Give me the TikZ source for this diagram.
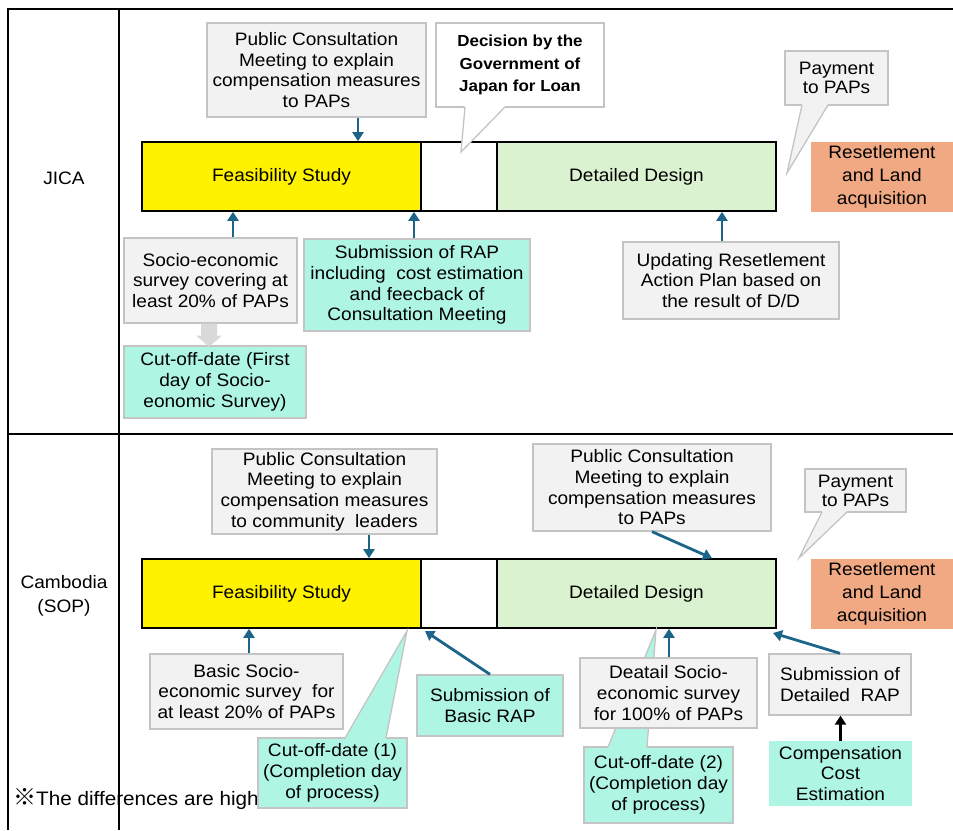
\documentclass[tikz,border=0pt]{standalone}
\usepackage{fontspec}
\setmainfont{Liberation Sans}[FakeStretch=1.06]
\newfontfamily\cjkf{Noto Sans CJK JP}
\usetikzlibrary{arrows.meta,calc}
\definecolor{boxgray}{HTML}{F2F2F2}
\definecolor{boxline}{HTML}{C4C4C4}
\definecolor{aqua}{HTML}{AEF5E4}
\definecolor{salmon}{HTML}{F1A983}
\definecolor{ddgreen}{HTML}{DAF2D0}
\definecolor{arrowblue}{HTML}{1C6588}
\definecolor{blockgray}{HTML}{D9D9D9}
\begin{document}
\begin{tikzpicture}[x=1pt,y=-1pt,
  txt/.style={font=\fontsize{18}{20.7}\selectfont, align=center, inner sep=0pt},
  gbox/.style={txt, fill=boxgray, draw=boxline, line width=1.3pt},
  abox/.style={txt, fill=aqua, draw=boxline, line width=1.3pt},
  stagebox/.style={txt, draw=black, line width=1.6pt, minimum height=69},
  resbox/.style={txt, fill=salmon, font=\fontsize{18}{23.3}\selectfont, minimum width=142, minimum height=70},
  arr/.style={draw=arrowblue, line width=2.8pt, -{Triangle[length=9pt,width=11pt]}},
  blackarr/.style={draw=black, line width=2.8pt, -{Triangle[length=9pt,width=11pt]}},
  tableline/.style={line width=1.4pt, black},
  pointer/.style={draw=boxline, line width=1.3pt, line join=miter},
]
\useasboundingbox (0,0) rectangle (953,830);

% table
\draw[tableline] (8,830) -- (8,9) -- (953,9);
\draw[tableline] (119,9) -- (119,830);
\draw[tableline] (8,434) -- (953,434);

% row labels
\node[txt] (lj) at (64,178) {JICA};
\node[txt, font=\fontsize{18}{23.5}\selectfont] (lc) at (64,596) {Cambodia\\(SOP)};

% ================= JICA =================
\node[stagebox, fill=yellow, minimum width=279] (fsj) at (281.5,176.5) {Feasibility Study};
\node[stagebox, fill=white, minimum width=76] (wj) at (459,176.5) {};
\node[stagebox, fill=ddgreen, minimum width=279] (ddj) at (636.5,176.5) {Detailed Design};
\node[resbox] (rj) at (882,177) {Resetlement\\and Land\\acquisition};

\node[gbox, minimum width=219, minimum height=94] (pcj) at (316.5,70)
  {Public Consultation\\Meeting to explain\\compensation measures\\to PAPs};

% decision callout
\node[fill=white, draw=boxline, line width=1.3pt, outer sep=0pt, inner sep=0pt, align=center,
  minimum width=168, minimum height=84, font=\bfseries\fontsize{16}{22.5}\selectfont] (dec) at (520,65)
  {Decision by the\\Government of\\Japan for Loan};
\coordinate (tipdec) at (461,152);
\fill[white] ($(dec.south west)+(29,-1)$) -- (tipdec) -- ($(dec.south west)+(69,-1)$) -- cycle;
\draw[pointer] ($(dec.south west)+(29,0)$) -- (tipdec) -- ($(dec.south west)+(69,0)$);

% payment callout JICA
\node[gbox, outer sep=0pt, font=\fontsize{18}{19.5}\selectfont, minimum width=103, minimum height=54] (payj) at (836.5,78)
  {Payment\\to PAPs};
\coordinate (tippayj) at (787,173);
\fill[boxgray] ($(payj.south west)+(17,-1)$) -- (tippayj) -- ($(payj.south west)+(43,-1)$) -- cycle;
\draw[pointer] ($(payj.south west)+(17,0)$) -- (tippayj) -- ($(payj.south west)+(43,0)$);

\coordinate (xa1) at (358,0);
\draw[arr] (pcj.south -| xa1) -- (fsj.north -| xa1);

\node[gbox, minimum width=173, minimum height=85] (socj) at (210.5,280.5)
  {Socio-economic\\survey covering at\\least 20\% of PAPs};
\coordinate (xa2) at (233,0);
\draw[arr] (socj.north -| xa2) -- (fsj.south -| xa2);

\node[abox, minimum width=226, minimum height=92] (subj) at (417,285)
  {Submission of RAP\\including\ \ cost estimation\\and feecback of\\Consultation Meeting};
\coordinate (xa3) at (414,0);
\draw[arr] (subj.north -| xa3) -- (fsj.south -| xa3);

\node[abox, minimum width=182, minimum height=72] (cutj) at (215,382)
  {Cut-off-date (First\\day of Socio-\\eonomic Survey)};
\coordinate (xg) at (209,0);
\fill[blockgray] (socj.south -| xg) ++(-8,0) -- ++(0,12) -- ++(-5,0) -- ++(13,11) -- ++(13,-11) -- ++(-5,0) -- ++(0,-12) -- cycle;

\node[gbox, minimum width=216, minimum height=77] (updj) at (731,280.5)
  {Updating Resetlement\\Action Plan based on\\the result of D/D};
\coordinate (xa4) at (722,0);
\draw[arr] (updj.north -| xa4) -- (ddj.south -| xa4);

% ================= Cambodia =================
\node[stagebox, fill=yellow, minimum width=279] (fsc) at (281.5,593.5) {Feasibility Study};
\node[stagebox, fill=white, minimum width=76] (wc) at (459,593.5) {};
\node[stagebox, fill=ddgreen, minimum width=279] (ddc) at (636.5,593.5) {Detailed Design};
\node[resbox] (rc) at (882,594) {Resetlement\\and Land\\acquisition};

\node[gbox, minimum width=225, minimum height=85] (pcc) at (324.5,491.5)
  {Public Consultation\\Meeting to explain\\compensation measures\\to community\ \ leaders};
\coordinate (xc1) at (369,0);
\draw[arr] (pcc.south -| xc1) -- (fsc.north -| xc1);

\node[gbox, minimum width=238, minimum height=87] (pc2) at (652,487.5)
  {Public Consultation\\Meeting to explain\\compensation measures\\to PAPs};
\coordinate (xc2) at (712,0);
\draw[arr] (pc2.south) -- (ddc.north -| xc2);

% payment callout Cambodia
\node[gbox, outer sep=0pt, font=\fontsize{18}{19}\selectfont, minimum width=101, minimum height=43] (payc) at (855.5,490.5)
  {Payment\\to PAPs};
\coordinate (tippayc) at (799,558);
\fill[boxgray] ($(payc.south west)+(17,-1)$) -- (tippayc) -- ($(payc.south west)+(42,-1)$) -- cycle;
\draw[pointer] ($(payc.south west)+(17,0)$) -- (tippayc) -- ($(payc.south west)+(42,0)$);

\node[gbox, minimum width=193, minimum height=75] (bsoc) at (246.5,691.5)
  {Basic Socio-\\economic survey\ \ for\\at least 20\% of PAPs};
\coordinate (xc3) at (249,0);
\draw[arr] (bsoc.north -| xc3) -- (fsc.south -| xc3);

% footnote (partly covered)
\node[anchor=base west, inner sep=0pt, font=\fontsize{19.5}{22}\selectfont] (note) at (13,805)
  {{\cjkf\fontsize{23}{23}\selectfont ※}The differences are highlighted in green};

% cut-off (1) callout
\node[abox, outer sep=0pt, minimum width=149, minimum height=70] (cut1) at (332.5,773)
  {Cut-off-date (1)\\(Completion day\\of process)};
\coordinate (tipcut1) at (407,631);
\fill[aqua] ($(cut1.north west)+(87,1)$) -- (tipcut1) -- ($(cut1.north west)+(128,1)$) -- cycle;
\draw[pointer] ($(cut1.north west)+(87,0)$) -- (tipcut1) -- ($(cut1.north west)+(128,0)$);

\node[abox, minimum width=146, minimum height=61] (brap) at (490,705.5)
  {Submission of\\Basic RAP};
\coordinate (tipbrap) at (425,631);
\draw[arr] (brap.north) -- (tipbrap);

% cut-off (2) callout (behind detail survey box)
\node[abox, outer sep=0pt, minimum width=149, minimum height=76] (cut2) at (658.5,785)
  {Cut-off-date (2)\\(Completion day\\of process)};
\coordinate (tipcut2) at (656,630);
\fill[aqua] ($(cut2.north west)+(24,1)$) -- (tipcut2) -- ($(cut2.north west)+(63,1)$) -- cycle;
\draw[pointer] ($(cut2.north west)+(24,0)$) -- (tipcut2) -- ($(cut2.north west)+(63,0)$);

\node[gbox, minimum width=177, minimum height=70] (dsoc) at (668.5,693)
  {Deatail Socio-\\economic survey\\for 100\% of PAPs};
\coordinate (xc4) at (669,0);
\draw[arr] (dsoc.north -| xc4) -- (ddc.south -| xc4);

\node[gbox, minimum width=142, minimum height=61] (drap) at (840,684.5)
  {Submission of\\Detailed\ \ RAP};
\coordinate (tipdrap) at (773,633);
\draw[arr] (drap.north) -- (tipdrap);

\node[txt, fill=aqua, minimum width=143, minimum height=65] (comp) at (840.5,773.5)
  {Compensation\\Cost\\Estimation};
\draw[blackarr] (comp.north) -- (comp.north |- drap.south);

\end{tikzpicture}
\end{document}
